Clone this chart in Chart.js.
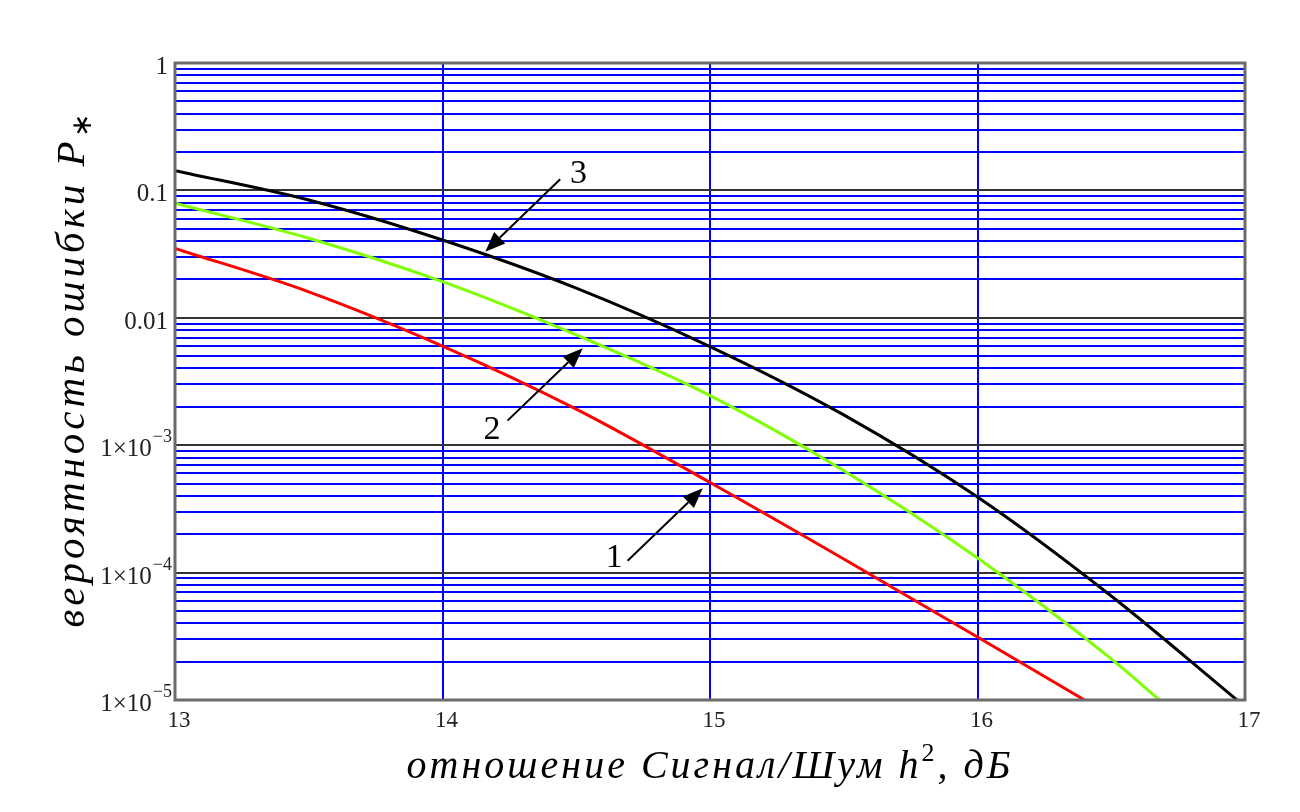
<!DOCTYPE html>
<html>
<head>
<meta charset="utf-8">
<script src="https://cdn.jsdelivr.net/npm/chart.js@4/dist/chart.umd.min.js"></script>
<style>
  html, body { margin: 0; background: #fff; }
  #wrap { width: 1300px; height: 812px; }
</style>
</head>
<body>
<div id="wrap"><canvas id="chart"></canvas></div>
<script>
// кривая 1 (красная)
const snr1 = [13, 13.5, 14, 14.5, 15, 15.5, 16, 16.4];
const perr1 = [0.0351, 0.0160, 0.0060, 0.00192, 0.00051, 0.000128, 0.0000312, 0.00001];
// кривая 2 (зелёная)
const snr2 = [13, 13.5, 14, 14.5, 15, 15.5, 16, 16.5, 16.68];
const perr2 = [0.0792, 0.0421, 0.0192, 0.00733, 0.00245, 0.00063, 0.000130, 0.000021, 0.00001];
// кривая 3 (чёрная)
const snr3 = [13, 13.5, 14, 14.5, 15, 15.5, 16, 16.5, 16.97];
const perr3 = [0.143, 0.0841, 0.0408, 0.0171, 0.00595, 0.00173, 0.000392, 0.0000655, 0.00001];

// подписи осей
const yDecades = [1, 0.1, 0.01, 1e-3, 1e-4, 1e-5];
const yLabelBase = ['1', '0.1', '0.01', '1×10', '1×10', '1×10'];
const yLabelExp = ['', '', '', '−3', '−4', '−5'];
const yMinorSteps = [2, 3, 4, 5, 6, 7, 8, 9];

// номера кривых и стрелки (в координатах данных)
const curveNumbers = ['1', '2', '3'];
const numberPos = [[14.642, 1.29e-4], [14.185, 1.32e-3], [14.508, 0.1345]];
const arrowTail = [[14.692, 1.24e-4], [14.243, 1.56e-3], [14.440, 0.1222]];
const arrowHead = [[14.973, 4.59e-4], [14.524, 5.76e-3], [14.160, 0.0330]];

function toPoints(xs, ys) {
    return xs.map((x, i) => ({ x: x, y: ys[i] }));
}

// все горизонтальные линии сетки
const yGrid = [];
yDecades.forEach(d => {
    yGrid.push(d);
    if (d < 1) yMinorSteps.forEach(k => yGrid.push(d * k));
});
yGrid.sort((a, b) => a - b);

function isDecade(v) {
    const e = Math.log10(v);
    return Math.abs(e - Math.round(e)) < 1e-6;
}

const serif = "'Liberation Serif', 'Times New Roman', serif";

// рамка, номера кривых, стрелки, подписи
const decorPlugin = {
    id: 'decor',
    afterDatasetsDraw(chart) {
        const ctx = chart.ctx;
        const a = chart.chartArea;
        const xs = chart.scales.x, ys = chart.scales.y;
        ctx.save();
        ctx.strokeStyle = '#6b6b6b';
        ctx.lineWidth = 3;
        ctx.strokeRect(a.left, a.top, a.right - a.left, a.bottom - a.top);

        // стрелки
        ctx.strokeStyle = '#000';
        ctx.fillStyle = '#000';
        ctx.lineWidth = 2;
        for (let i = 0; i < curveNumbers.length; i++) {
            const x0 = xs.getPixelForValue(arrowTail[i][0]);
            const y0 = ys.getPixelForValue(arrowTail[i][1]);
            const x1 = xs.getPixelForValue(arrowHead[i][0]);
            const y1 = ys.getPixelForValue(arrowHead[i][1]);
            const ang = Math.atan2(y1 - y0, x1 - x0);
            const len = 20, half = 8;
            const bx = x1 - len * Math.cos(ang), by = y1 - len * Math.sin(ang);
            ctx.beginPath();
            ctx.moveTo(x0, y0);
            ctx.lineTo(bx, by);
            ctx.stroke();
            ctx.beginPath();
            ctx.moveTo(x1, y1);
            ctx.lineTo(bx + half * Math.sin(ang), by - half * Math.cos(ang));
            ctx.lineTo(bx - half * Math.sin(ang), by + half * Math.cos(ang));
            ctx.closePath();
            ctx.fill();

            ctx.font = '34px ' + serif;
            ctx.textAlign = 'center';
            ctx.textBaseline = 'middle';
            ctx.fillText(curveNumbers[i], xs.getPixelForValue(numberPos[i][0]), ys.getPixelForValue(numberPos[i][1]));
        }

        // подписи оси Y
        ctx.fillStyle = '#222';
        ctx.textBaseline = 'alphabetic';
        yDecades.forEach((v, i) => {
            const py = ys.getPixelForValue(v);
            let right = a.left - 3;
            if (yLabelExp[i]) {
                ctx.font = '18px ' + serif;
                ctx.textAlign = 'right';
                ctx.fillText(yLabelExp[i], right, py - 3);
                right -= ctx.measureText(yLabelExp[i]).width + 1;
            } else {
                right = a.left - 7;
            }
            ctx.font = '25px ' + serif;
            ctx.textAlign = 'right';
            ctx.fillText(yLabelBase[i], right, py + 11);
        });
        ctx.restore();
    },
    afterDraw(chart) {
        const ctx = chart.ctx;
        const a = chart.chartArea;
        ctx.save();
        ctx.fillStyle = '#000';
        ctx.textAlign = 'left';
        ctx.textBaseline = 'alphabetic';
        if ('letterSpacing' in ctx) ctx.letterSpacing = '3px';

        // подпись оси X
        const big = 'italic 40px ' + serif;
        const sup = '26px ' + serif;
        const partsX = [
            { t: 'отношение Сигнал/Шум ', f: big, dy: 0 },
            { t: 'h', f: big, dy: 0 },
            { t: '2', f: sup, dy: -17 },
            { t: ', дБ', f: big, dy: 0 }
        ];
        let w = 0;
        partsX.forEach(p => { ctx.font = p.f; w += ctx.measureText(p.t).width; });
        let x = (a.left + a.right) / 2 - w / 2;
        partsX.forEach(p => {
            ctx.font = p.f;
            ctx.fillText(p.t, x, 778 + p.dy);
            x += ctx.measureText(p.t).width;
        });

        // подпись оси Y
        if ('letterSpacing' in ctx) ctx.letterSpacing = '4px';
        const partsY = [
            { t: 'вероятность ошибки ', f: 'italic 41px ' + serif, dy: 0 },
            { t: 'P', f: 'italic 41px ' + serif, dy: 0 },
            { t: '∗', f: '28px ' + serif, dy: 7 }
        ];
        w = 0;
        partsY.forEach(p => { ctx.font = p.f; w += ctx.measureText(p.t).width; });
        ctx.translate(84, 369);
        ctx.rotate(-Math.PI / 2);
        x = -w / 2;
        partsY.forEach(p => {
            ctx.font = p.f;
            ctx.fillText(p.t, x, p.dy);
            x += ctx.measureText(p.t).width;
        });
        ctx.restore();
    }
};

new Chart(document.getElementById('chart'), {
    type: 'line',
    data: {
        datasets: [
            { data: toPoints(snr1, perr1), borderColor: '#ff0000' },
            { data: toPoints(snr2, perr2), borderColor: '#80ff00' },
            { data: toPoints(snr3, perr3), borderColor: '#000000' }
        ]
    },
    options: {
        responsive: true,
        maintainAspectRatio: false,
        animation: false,
        devicePixelRatio: 1,
        layout: { padding: { top: 63, right: 55, left: 0, bottom: 0 } },
        elements: {
            point: { radius: 0 },
            line: { borderWidth: 3, cubicInterpolationMode: 'monotone', fill: false }
        },
        plugins: { legend: { display: false }, tooltip: { enabled: false } },
        scales: {
            x: {
                type: 'linear',
                min: 13,
                max: 17,
                ticks: {
                    stepSize: 1,
                    color: '#222',
                    padding: 7,
                    labelOffset: 4,
                    font: { family: serif, size: 23 }
                },
                grid: {
                    drawTicks: false,
                    color: ctx => (ctx.tick && (ctx.tick.value === 13 || ctx.tick.value === 17)) ? 'rgba(0,0,0,0)' : '#0000ff',
                    lineWidth: 2
                },
                border: { display: false },
                afterFit: scale => { scale.height = 112; }
            },
            y: {
                type: 'logarithmic',
                min: 1e-5,
                max: 1,
                afterBuildTicks: scale => { scale.ticks = yGrid.map(v => ({ value: v })); },
                ticks: { display: false, autoSkip: false },
                grid: {
                    drawTicks: false,
                    color: ctx => (ctx.tick && isDecade(ctx.tick.value)) ? '#333333' : '#0000ff',
                    lineWidth: 2
                },
                border: { display: false },
                afterFit: scale => { scale.width = 175; }
            }
        }
    },
    plugins: [decorPlugin]
});
</script>
</body>
</html>
